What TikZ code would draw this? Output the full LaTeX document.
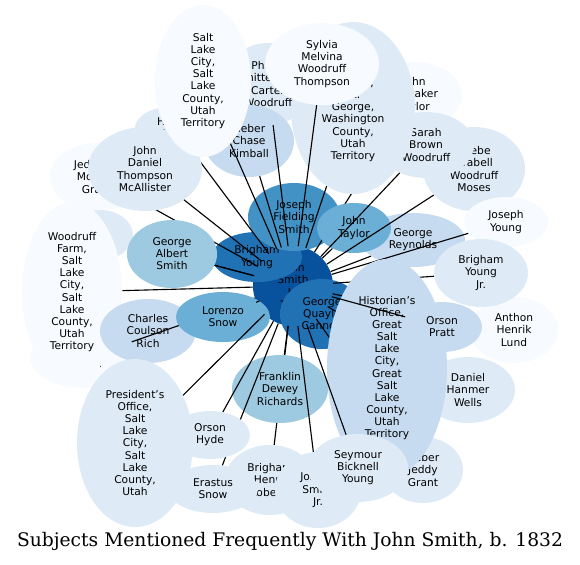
\documentclass[tikz,border=0pt]{standalone}
\usepackage{fontspec}
\setmainfont{DejaVu Sans}
\newfontfamily\titlefont{DejaVu Serif}
\usetikzlibrary{shapes.geometric, backgrounds}
\definecolor{bluefaint}{HTML}{F7FBFF}
\definecolor{bluepale}{HTML}{DEEBF7}
\definecolor{bluesoft}{HTML}{C6DBEF}
\definecolor{bluemid}{HTML}{9ECAE1}
\definecolor{bluebase}{HTML}{6BAED6}
\definecolor{bluestrong}{HTML}{4292C6}
\definecolor{bluedeep}{HTML}{2171B5}
\definecolor{bluedark}{HTML}{08519C}
\tikzset{
  subj/.style 2 args = {ellipse, minimum width=#1*0.25mm, minimum height=#2*0.25mm,
                        inner sep=0pt, align=center, font=\fontsize{7.6}{8.6}\selectfont},
  link/.style        = {draw=black, line width=0.8pt},
  caption/.style     = {font=\titlefont\fontsize{13.3}{15}\selectfont},
}

\begin{document}
\begin{tikzpicture}[x=0.25mm, y=-0.25mm]
  \useasboundingbox (0,0) rectangle (580,564);
  % centre and the people closest to it
  \node[subj={80}{80}, fill=bluedark] (js) at (293,286) {John\\Smith\\b.\\1832};
  \node[subj={90}{50}, fill=bluedeep] (by) at (257,257) {Brigham\\Young};
  \node[subj={92}{68}, fill=bluestrong] (jfs) at (294,217) {Joseph\\Fielding\\Smith};
  \node[subj={84}{70}, fill=bluedeep] (gqc) at (322,314) {George\\Quayle\\Cannon};
  \begin{scope}[on background layer]
    \foreach \n in {by, jfs, gqc} \draw[link] (js) -- (\n);
  \end{scope}
  % upper left, mostly hidden
  \node[subj={96}{66}, fill=bluefaint] (jwt) at (414,95) {John\\Whitaker\\Taylor};
  \draw[link] (js) -- (jwt);
  \node[subj={94}{68}, fill=bluefaint] (jed) at (97,177) {Jedediah\\Morgan\\Grant};
  \node[subj={80}{44}, fill=bluepale] (hyr) at (175,128) {Hyrum\\Smith};
  \node[subj={66}{50}, fill=bluepale] (hid) at (100,235) {};
  \node[subj={110}{60}, fill=bluefaint] (brn) at (85,358) {James\\Brown};
  \foreach \n in {jed, hyr, hid} \draw[link] (js) -- (\n);
  \node[subj={100}{180}, fill=bluefaint] (wf) at (72,292)
    {Woodruff\\Farm,\\Salt\\Lake\\City,\\Salt\\Lake\\County,\\Utah\\Territory};
  \draw[link] (js) -- (wf);
  \node[subj={90}{68}, fill=bluemid] (gas) at (172,254) {George\\Albert\\Smith};
  \draw[link] (js) -- (gas);
  \node[subj={114}{84}, fill=bluepale] (mca) at (145,169) {John\\Daniel\\Thompson\\McAllister};
  \draw[link] (js) -- (mca);
  % top row
  \node[subj={102}{84}, fill=bluepale] (pawm) at (474,169) {Phebe\\Arabell\\Woodruff\\Moses};
  \node[subj={96}{66}, fill=bluepale] (sbw) at (426,145) {Sarah\\Brown\\Woodruff};
  \node[subj={124}{172}, fill=bluepale] (stg) at (353,108)
    {St.\\George\\Temple,\\St.\\George,\\Washington\\County,\\Utah\\Territory};
  \node[subj={90}{82}, fill=bluepale] (pwcw) at (268,84) {Phebe\\Whittemore\\Carter\\Woodruff};
  \node[subj={90}{72}, fill=bluesoft] (hck) at (249,141) {Heber\\Chase\\Kimball};
  \node[subj={114}{82}, fill=bluefaint] (syl) at (322,64) {Sylvia\\Melvina\\Woodruff\\Thompson};
  \node[subj={96}{152}, fill=bluefaint] (slc) at (203,81)
    {Salt\\Lake\\City,\\Salt\\Lake\\County,\\Utah\\Territory};
  \node[subj={104}{54}, fill=bluesoft] (gr) at (413,240) {George\\Reynolds};
  \draw[link] (js) -- (gr);
  \node[subj={74}{50}, fill=bluebase] (jt) at (354,228) {John\\Taylor};
  \foreach \n in {jt, stg, sbw, pawm, syl, pwcw, hck, slc} \draw[link] (js) -- (\n);
  % right side
  \node[subj={84}{50}, fill=bluefaint] (jy) at (506,222) {Joseph\\Young};
  \draw[link] (js) -- (jy);
  \node[subj={88}{66}, fill=bluefaint] (ahl) at (514,330) {Anthon\\Henrik\\Lund};
  \node[subj={94}{66}, fill=bluepale] (dhw) at (468,390) {Daniel\\Hanmer\\Wells};
  \node[subj={80}{66}, fill=bluepale] (hjg) at (423,470) {Heber\\Jeddy\\Grant};
  \node[subj={94}{68}, fill=bluepale] (byjr) at (481,273) {Brigham\\Young\\Jr.};
  \foreach \n in {ahl, dhw, hjg, byjr} \draw[link] (js) -- (\n);
  \node[subj={120}{218}, fill=bluesoft] (ho) at (387,368)
    {Historian's\\Office,\\Great\\Salt\\Lake\\City,\\Great\\Salt\\Lake\\County,\\Utah\\Territory};
  \begin{scope}[on background layer]
    \draw[link] (js) -- (ho);
  \end{scope}
  \node[subj={80}{50}, fill=bluesoft] (op) at (442,327) {Orson\\Pratt};
  \draw[link] (js) -- (op);
  % lower left
  \node[subj={96}{64}, fill=bluesoft] (ccr) at (148,331) {Charles\\Coulson\\Rich};
  \foreach \n in {ccr, brn} \draw[link] (js) -- (\n);
  \node[subj={94}{50}, fill=bluebase] (ls) at (223,317) {Lorenzo\\Snow};
  \draw[link] (js) -- (ls);
  \node[subj={116}{168}, fill=bluepale] (po) at (135,443)
    {President's\\Office,\\Salt\\Lake\\City,\\Salt\\Lake\\County,\\Utah};
  \draw[link] (js) -- (po);
  % bottom row
  \node[subj={90}{70}, fill=bluepale] (bhr) at (270,480) {Brigham\\Henry\\Roberts};
  \draw[link] (js) -- (bhr);
  \node[subj={96}{68}, fill=bluemid] (fdr) at (280,389) {Franklin\\Dewey\\Richards};
  \draw[link] (js) -- (fdr);
  \node[subj={90}{48}, fill=bluepale] (es) at (213,489) {Erastus\\Snow};
  \draw[link] (js) -- (es);
  \node[subj={80}{48}, fill=bluepale] (oh) at (210,435) {Orson\\Hyde};
  \draw[link] (js) -- (oh);
  \node[subj={86}{76}, fill=bluepale] (jsj) at (318,490) {Joseph\\Smith\\Jr.};
  \draw[link] (js) -- (jsj);
  \node[subj={100}{68}, fill=bluepale] (sby) at (358,468) {Seymour\\Bicknell\\Young};
  \draw[link] (js) -- (sby);
  \node[caption] (title) at (290,541) {Subjects Mentioned Frequently With John Smith, b. 1832};
\end{tikzpicture}
\end{document}
